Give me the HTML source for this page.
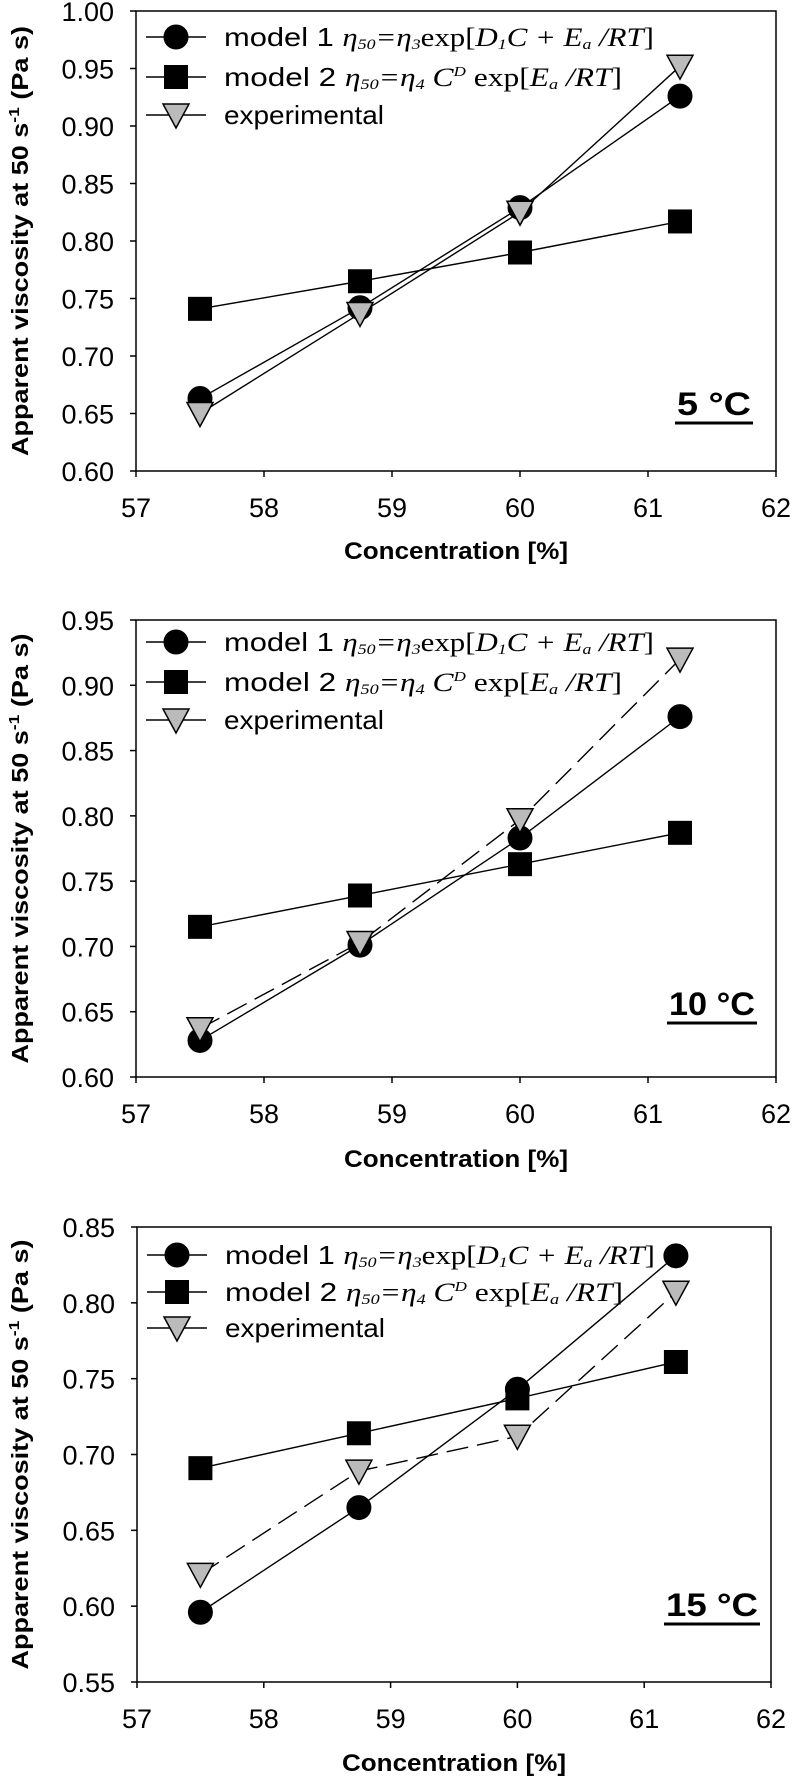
<!DOCTYPE html>
<html><head><meta charset="utf-8"><style>
html,body{margin:0;padding:0;background:#fff;}
svg{display:block;font-family:"Liberation Sans",Arial,sans-serif;}
</style></head><body>
<svg id="fig" width="792" height="1776" viewBox="0 0 792 1776"></svg>
<script>
const concentrations = [57.5, 58.75, 60, 61.25];
const xTicks = [57, 58, 59, 60, 61, 62];
const p1Model1 = [0.663, 0.742, 0.829, 0.926];
const p1Model2 = [0.741, 0.765, 0.790, 0.817];
const p1Exp = [0.650, 0.737, 0.825, 0.952];
const p1YTicks = ["0.60","0.65","0.70","0.75","0.80","0.85","0.90","0.95","1.00"];
const p2Model1 = [0.628, 0.701, 0.783, 0.876];
const p2Model2 = [0.715, 0.739, 0.763, 0.787];
const p2Exp = [0.637, 0.703, 0.797, 0.920];
const p2YTicks = ["0.60","0.65","0.70","0.75","0.80","0.85","0.90","0.95"];
const p3Model1 = [0.596, 0.665, 0.743, 0.831];
const p3Model2 = [0.691, 0.714, 0.737, 0.761];
const p3Exp = [0.621, 0.689, 0.712, 0.807];
const p3YTicks = ["0.55","0.60","0.65","0.70","0.75","0.80","0.85"];
const tempLabels = ["5 °C", "10 °C", "15 °C"];

const NS = "http://www.w3.org/2000/svg";
const svg = document.getElementById("fig");
function mk(tag, attrs, parent){
  const e = document.createElementNS(NS, tag);
  for (const k in attrs) e.setAttribute(k, attrs[k]);
  (parent||svg).appendChild(e);
  return e;
}
function circleMark(g,x,y){
  const c = mk("circle",{cx:x,cy:y,r:12,fill:"#000",stroke:"#000"},g);
  
  
}
function squareMark(g,x,y){
  const r = mk("rect",{x:x-12,y:y-12,width:24,height:24,fill:"#000"},g);
  
  
}
function triMark(g,x,y){
  const p = mk("polygon",{points:`${x-13},${y-11} ${x+13},${y-11} ${x},${y+13}`,fill:"#bbb",stroke:"#000","stroke-width":1.5},g);
  
  
}

function panel(cfg){
  const g = mk("g",{});
  
  
  const x0=cfg.x0,x1=cfg.x1,yT=cfg.yTop,yB=cfg.yBot;
  const ymin=parseFloat(cfg.yTicks[0]), ymax=parseFloat(cfg.yTicks[cfg.yTicks.length-1]);
  const sx=v=>x0+(v-57)/(62-57)*(x1-x0);
  const sy=v=>yB-(v-ymin)/(ymax-ymin)*(yB-yT);
  const frame = mk("rect",{x:x0,y:yT,width:x1-x0,height:yB-yT,fill:"none",stroke:"#000","stroke-width":1.5},g);
  
  
  cfg.yTicks.forEach(t=>{
    const y=sy(parseFloat(t));
    mk("line",{x1:x0-6,y1:y,x2:x0,y2:y,stroke:"#000","stroke-width":1.5},g);
    const tx = mk("text",{x:x0-22,y:y+10,"text-anchor":"end","font-size":27},g);
    tx.textContent=t;
    
    
  });
  xTicks.forEach(t=>{
    const x=sx(t);
    mk("line",{x1:x,y1:yB,x2:x,y2:yB+6,stroke:"#000","stroke-width":1.5},g);
    const tx = mk("text",{x:x,y:cfg.xTickY+10,"text-anchor":"middle","font-size":27},g);
    tx.textContent=t;
    
    
  });
  const xt = mk("text",{x:(x0+x1)/2,y:cfg.titleY+9,"text-anchor":"middle","font-size":24,"font-weight":"bold",textLength:224,lengthAdjust:"spacingAndGlyphs"},g);
  xt.textContent="Concentration [%]";
  
  
  const cy=(yT+yB)/2;
  const yt = mk("text",{x:0,y:0,"text-anchor":"middle","font-size":23,"font-weight":"bold",transform:`translate(28,${cy}) rotate(-90)`,textLength:430,lengthAdjust:"spacingAndGlyphs"},g);
  yt.innerHTML='Apparent viscosity at 50 s<tspan dy="-9" font-size="15">-1</tspan><tspan dy="9"> (Pa s)</tspan>';
  
  
  // series
  const series=[
    {vals:cfg.m1,mark:circleMark,dash:null,name:"series-model-1"},
    {vals:cfg.m2,mark:squareMark,dash:null,name:"series-model-2"},
    {vals:cfg.ex,mark:triMark,dash:cfg.dashed?"22,9":null,name:"series-experimental"}
  ];
  series.forEach(s=>{
    const sg = mk("g",{},g);
    
    
    const pts=concentrations.map((c,i)=>sx(c)+","+sy(s.vals[i])).join(" ");
    const a={points:pts,fill:"none",stroke:"#000","stroke-width":1.4};
    if(s.dash) a["stroke-dasharray"]=s.dash;
    mk("polyline",a,sg);
  });
  series.forEach(s=>{
    const sg = mk("g",{},g);
    
    
    concentrations.forEach((c,i)=>s.mark(sg,sx(c),sy(s.vals[i])));
  });
  // legend
  const lg = mk("g",{},g);
  
  
  const texts=[
    'model 1 <tspan font-family="Liberation Serif" font-style="italic">η<tspan font-size="15" dy="3">50</tspan><tspan dy="-3">=η</tspan><tspan font-size="15" dy="3">3</tspan><tspan dy="-3" font-style="normal">exp[</tspan>D<tspan font-size="15" dy="3">1</tspan><tspan dy="-3">C + E</tspan><tspan font-size="15" dy="3">a</tspan><tspan dy="-3"> /RT</tspan><tspan font-style="normal">]</tspan></tspan>',
    'model 2 <tspan font-family="Liberation Serif" font-style="italic">η<tspan font-size="15" dy="3">50</tspan><tspan dy="-3">=η</tspan><tspan font-size="15" dy="3">4</tspan><tspan dy="-3"> C</tspan><tspan font-size="14" dy="-10">D</tspan><tspan dy="10" font-style="normal"> exp[</tspan>E<tspan font-size="15" dy="3">a</tspan><tspan dy="-3"> /RT</tspan><tspan font-style="normal">]</tspan></tspan>',
    'experimental'
  ];
  const marks=[circleMark,squareMark,triMark];
  const widths=[430,398,160];
  cfg.legY.forEach((y,i)=>{
    const e = mk("g",{},lg);
    
    
    mk("line",{x1:x0+10,y1:y,x2:x0+70,y2:y,stroke:"#000","stroke-width":1.5},e);
    marks[i](e,x0+40,y);
    const t = mk("text",{x:x0+88,y:y+9,"font-size":26,textLength:widths[i],lengthAdjust:"spacingAndGlyphs"},e);
    t.innerHTML=texts[i];
  });
  const tl = mk("text",{x:cfg.tempX,y:cfg.tempY,"text-anchor":"middle","font-size":32,"font-weight":"bold",textLength:cfg.tempW,lengthAdjust:"spacingAndGlyphs"},g);
  tl.textContent=cfg.temp;
  
  
  mk("line",{x1:cfg.tempX-cfg.tempW/2-2,y1:cfg.tempY+8,x2:cfg.tempX+cfg.tempW/2+2,y2:cfg.tempY+8,stroke:"#000","stroke-width":3},g);
}

panel({name:"panel-5c",x0:136,x1:776,yTop:11,yBot:471,yTicks:p1YTicks,m1:p1Model1,m2:p1Model2,ex:p1Exp,dashed:false,
  xTickY:507,titleY:550,legY:[37,77,115],temp:tempLabels[0],tempX:714,tempY:415,tempW:74});
panel({name:"panel-10c",x0:136,x1:776,yTop:620,yBot:1077,yTicks:p2YTicks,m1:p2Model1,m2:p2Model2,ex:p2Exp,dashed:true,
  xTickY:1113,titleY:1158,legY:[642,682,720],temp:tempLabels[1],tempX:712,tempY:1015,tempW:86});
panel({name:"panel-15c",x0:137,x1:771,yTop:1227,yBot:1682,yTicks:p3YTicks,m1:p3Model1,m2:p3Model2,ex:p3Exp,dashed:true,
  xTickY:1718,titleY:1762,legY:[1255,1292,1328],temp:tempLabels[2],tempX:712,tempY:1616,tempW:92});
</script>
</body></html>
